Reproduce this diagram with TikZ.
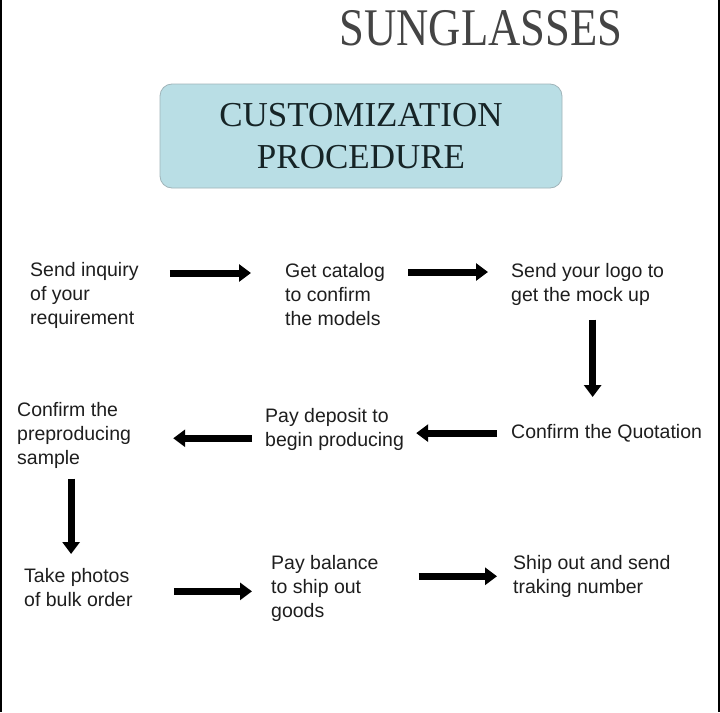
\documentclass[tikz,border=0pt]{standalone}
\usepackage{fontspec}
\setmainfont{Liberation Serif}
\setsansfont{Liberation Sans}
\definecolor{sgtitle}{RGB}{68,68,68}
\definecolor{sgbox}{RGB}{185,222,229}
\definecolor{sgboxline}{RGB}{160,180,185}
\definecolor{sgboxtext}{RGB}{22,36,38}
\definecolor{sgtext}{RGB}{30,30,30}
\usetikzlibrary{arrows.meta,positioning,calc}

\begin{document}
\begin{tikzpicture}[x=1pt, y=-1pt,
  stepnode/.style={anchor=north west, inner sep=0pt, align=left, text=sgtext,
    font=\sffamily\fontsize{19.5}{24}\selectfont},
  flow/.style={-{Triangle[length=12pt,width=17pt]}, line width=7pt, black}]
\useasboundingbox (0,0) rectangle (720,712);
\fill[white] (0,0) rectangle (720,712);
\draw[line width=2pt] (1,0) -- (1,712);
\draw[line width=2pt] (719,0) -- (719,712);
% Title
\node[sgtitle, font=\fontsize{46}{50}\selectfont, xscale=0.97, yscale=1.15] (title) at (481,28) {SUNGLASSES};
\node[rounded corners=12pt, draw=sgboxline, fill=sgbox, line width=0.8pt, minimum width=402pt,
  minimum height=104pt, align=center, text=sgboxtext, font=\fontsize{35}{42}\selectfont]
  (head) at (361,136) {CUSTOMIZATION\\PROCEDURE};
% Steps
\node[stepnode] (inq) at (30,262) {Send inquiry\\of your\\requirement};
\node[stepnode] (cat) at (285,263) {Get catalog\\to confirm\\the models};
\node[stepnode] (logo) at (511,263) {Send your logo to\\get the mock up};
\node[stepnode] (quot) at (511,424) {Confirm the Quotation};
\node[stepnode] (dep) at (265,408) {Pay deposit to\\begin producing};
\node[stepnode] (conf) at (17,402) {Confirm the\\preproducing\\sample};
\node[stepnode] (photo) at (24,568) {Take photos\\of bulk order};
\node[stepnode] (bal) at (271,555) {Pay balance\\to ship out\\goods};
\node[stepnode] (ship) at (513,555) {Ship out and send\\traking number};
% Arrows
\draw[flow, shorten <=31pt, shorten >=34pt] ([yshift=-11pt]inq.north east) -- ([yshift=-11pt]inq.north east -| cat.west);
\draw[flow, shorten <=23pt, shorten >=23pt] ([yshift=-9pt]cat.north east) -- ([yshift=-9pt]cat.north east -| logo.west);
\draw[flow, shorten <=14pt, shorten >=27pt] ([xshift=5pt]logo.south) -- ([xshift=5pt]logo.south |- quot.north);
\draw[flow, shorten <=14pt, shorten >=12pt] (quot.west) -- (quot.west -| dep.east);
\draw[flow, shorten <=13pt, shorten >=42pt] ([yshift=-9pt]dep.west) -- ([yshift=-9pt]dep.west -| conf.east);
\draw[flow, shorten <=10pt, shorten >=14pt] ([xshift=-3pt]conf.south) -- ([xshift=-3pt]conf.south |- photo.north);
\draw[flow, shorten <=41pt, shorten >=19pt] ([yshift=-4pt]photo.east) -- ([yshift=-4pt]photo.east -| bal.west);
\draw[flow, shorten <=40pt, shorten >=16pt] (bal.east |- ship.west) -- (ship.west);
\end{tikzpicture}
\end{document}
